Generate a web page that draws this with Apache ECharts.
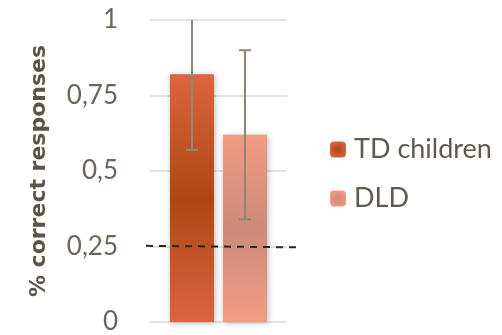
<!DOCTYPE html>
<html>
<head>
<meta charset="utf-8">
<script src="https://cdn.jsdelivr.net/npm/echarts@6/dist/echarts.min.js"></script>
<style>
  html, body { margin: 0; padding: 0; background: #fff; }
  #chart { width: 502px; height: 335px; }
</style>
</head>
<body>
<div id="chart"></div>
<script>
// Groups, mean proportion correct and error-bar ends
const groups = ['TD children', 'DLD'];
const means = [0.82, 0.62];
const errLow = [0.57, 0.34];
const errHigh = [1.0, 0.90];
// Chance level reference (dashed), left and right ends
const chanceLine = [[0, 0.262], [1, 0.257]];
const yTickLabels = ['0', '0,25', '0,5', '0,75', '1'];

const Y_MAX = 1;
const BAR_W = 44;
const BAR_GAP = 9;

const fills = [
  { top: '#dd6540', mid: '#ad4712', bottom: '#dc6440' },
  { top: '#f29b83', mid: '#cd8a7b', bottom: '#f39c84' }
];

function vGrad(c) {
  return new echarts.graphic.LinearGradient(0, 0, 0, 1, [
    { offset: 0, color: c.top },
    { offset: 0.5, color: c.mid },
    { offset: 1, color: c.bottom }
  ]);
}
function rGrad(c) {
  return new echarts.graphic.RadialGradient(0.5, 0.5, 0.6, [
    { offset: 0, color: c.mid },
    { offset: 1, color: c.top }
  ]);
}

const textColor = '#6b655a';
const fontFam = 'Lato, "Open Sans", sans-serif';

const barSeries = groups.map((g, i) => ({
  name: g,
  type: 'bar',
  xAxisIndex: 0,
  yAxisIndex: 0,
  barWidth: BAR_W,
  barGap: (BAR_GAP / BAR_W * 100).toFixed(1) + '%',
  data: [means[i]],
  itemStyle: {
    color: vGrad(fills[i]),
    shadowBlur: 6,
    shadowColor: 'rgba(0,0,0,0.28)',
    shadowOffsetX: 1,
    shadowOffsetY: 1
  },
  z: 2
}));

// Error bars, placed at the centre of each group's bar; a cap that would sit
// on the top edge of the plot is clipped away
const errSeries = groups.map((g, i) => ({
  type: 'custom',
  xAxisIndex: 0,
  yAxisIndex: 0,
  silent: true,
  z: 5,
  data: [[0, errLow[i], errHigh[i]]],
  renderItem: function (params, api) {
    const shift = (i === 0 ? -1 : 1) * (BAR_W + BAR_GAP) / 2;
    const lo = api.coord([api.value(0), api.value(1)]);
    const hi = api.coord([api.value(0), api.value(2)]);
    const x = Math.round(lo[0] + shift);
    const cap = 6;
    const style = { stroke: '#8f8677', lineWidth: 2 };
    const children = [
      { type: 'line', shape: { x1: x, y1: lo[1], x2: x, y2: hi[1] }, style },
      { type: 'line', shape: { x1: x - cap, y1: lo[1], x2: x + cap, y2: lo[1] }, style }
    ];
    if (api.value(2) < Y_MAX) {
      children.push({ type: 'line', shape: { x1: x - cap, y1: hi[1], x2: x + cap, y2: hi[1] }, style });
    }
    return { type: 'group', children };
  }
}));

const option = {
  animation: false,
  backgroundColor: '#ffffff',
  grid: [
    { left: 150, right: 215, top: 20, bottom: 9 },
    { left: 146, right: 205, top: 20, bottom: 9 }
  ],
  legend: {
    orient: 'vertical',
    left: 325,
    top: 131,
    itemWidth: 16,
    itemHeight: 16,
    itemGap: 22,
    data: groups.map((g, i) => ({ name: g, itemStyle: { color: rGrad(fills[i]) } })),
    textStyle: { color: '#5f594e', fontSize: 27, fontFamily: fontFam, padding: [0, 0, 0, 3] }
  },
  xAxis: [
    {
      type: 'category',
      gridIndex: 0,
      data: [''],
      axisLine: { show: false },
      axisTick: { show: false },
      axisLabel: { show: false }
    },
    {
      type: 'value',
      gridIndex: 1,
      min: 0,
      max: 1,
      show: false
    }
  ],
  yAxis: [
    {
      type: 'value',
      gridIndex: 0,
      min: 0,
      max: Y_MAX,
      interval: 0.25,
      name: '% correct responses',
      nameLocation: 'middle',
      nameRotate: 90,
      nameGap: 100,
      nameTextStyle: { color: '#5b5549', fontSize: 22, fontWeight: 'bold', fontFamily: '"DejaVu Sans", sans-serif' },
      axisLine: { show: false },
      axisTick: { show: false },
      axisLabel: {
        margin: 32,
        color: textColor,
        fontSize: 26,
        fontFamily: fontFam,
        formatter: (v) => yTickLabels[Math.round(v / 0.25)]
      },
      splitLine: { lineStyle: { color: '#e5e3de', width: 2 } }
    },
    {
      type: 'value',
      gridIndex: 1,
      min: 0,
      max: 1,
      show: false
    }
  ],
  series: [
    ...barSeries,
    ...errSeries,
    {
      type: 'line',
      xAxisIndex: 1,
      yAxisIndex: 1,
      data: chanceLine,
      symbol: 'none',
      silent: true,
      z: 4,
      lineStyle: { color: '#262626', width: 2, type: [7, 6] }
    }
  ]
};

echarts.init(document.getElementById('chart')).setOption(option);
</script>
</body>
</html>
